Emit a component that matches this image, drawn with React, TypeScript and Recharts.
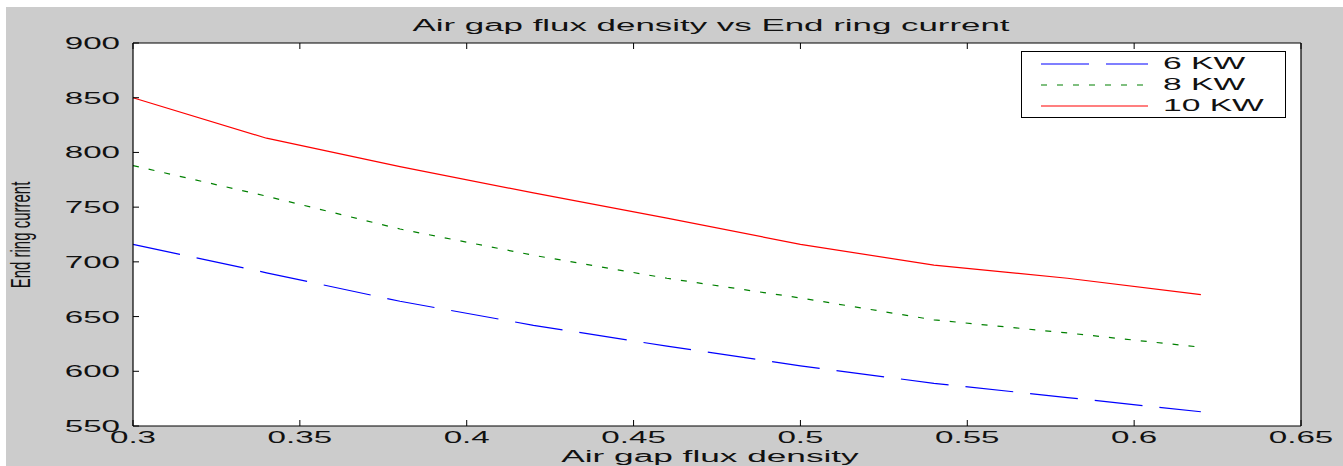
import { LineChart, Line, XAxis, YAxis, CartesianGrid, Legend } from "recharts";

// air gap flux density (x) and end ring current for each rating
const flux = [0.3, 0.34, 0.38, 0.42, 0.46, 0.5, 0.54, 0.58, 0.62];
const kw6 = [716, 690, 664, 642, 623, 605, 589, 576, 563];
const kw8 = [788, 760, 730, 706, 685, 667, 647, 635, 622];
const kw10 = [850, 813, 787, 763, 740, 716, 697, 685, 670];

const xTicks = [0.3, 0.35, 0.4, 0.45, 0.5, 0.55, 0.6, 0.65];
const yTicks = [550, 600, 650, 700, 750, 800, 850, 900];

const series = [
  { key: "kw6", name: "6 KW", color: "#0000ff", dash: "48 17" },
  { key: "kw8", name: "8 KW", color: "#008000", dash: "6 10" },
  { key: "kw10", name: "10 KW", color: "#ff0000", dash: undefined },
];

const data = flux.map((x, i) => ({ x, kw6: kw6[i], kw8: kw8[i], kw10: kw10[i] }));

const FONT = "'Liberation Sans', Arial, sans-serif";
const INK = "#111";

function XTick({ x, y, payload }: any) {
  return (
    <g transform={`translate(${x},${y}) scale(1.95,1)`}>
      <text textAnchor="middle" dy={17} fontSize={17} fontFamily={FONT} fill={INK}>
        {payload.value}
      </text>
    </g>
  );
}

function YTick({ x, y, payload }: any) {
  return (
    <g transform={`translate(${x},${y}) scale(1.95,1)`}>
      <text textAnchor="end" dy={6} fontSize={17} fontFamily={FONT} fill={INK}>
        {payload.value}
      </text>
    </g>
  );
}

function Blank() {
  return <g />;
}

function LegendBox() {
  return (
    <div
      style={{
        width: 263,
        height: 65,
        border: "1.3px solid #000",
        background: "#fff",
        position: "relative",
      }}
    >
      {series.map((s, i) => (
        <div key={s.key} style={{ position: "absolute", left: 0, top: 12 + i * 21 - 10, height: 20, width: 263 }}>
          <svg width={110} height={20} style={{ position: "absolute", left: 19, top: 0 }}>
            <line x1={0} y1={10} x2={107} y2={10} stroke={s.color} strokeWidth={1.2} strokeDasharray={s.dash} />
          </svg>
          <span
            style={{
              position: "absolute",
              left: 141,
              top: 0,
              fontFamily: FONT,
              fontSize: 16,
              lineHeight: "20px",
              color: INK,
              whiteSpace: "nowrap",
              transform: "scaleX(2.1)",
              transformOrigin: "left center",
            }}
          >
            {s.name}
          </span>
        </div>
      ))}
    </div>
  );
}

function Stretched({ text, cx, cy, size, sx }: { text: string; cx: number; cy: number; size: number; sx: number }) {
  return (
    <div style={{ position: "absolute", left: cx, top: cy, width: 0, height: 0 }}>
      <span
        style={{
          position: "absolute",
          left: 0,
          top: 0,
          whiteSpace: "nowrap",
          fontFamily: FONT,
          fontSize: size,
          lineHeight: 1,
          color: INK,
          transform: `translate(-50%,-50%) scaleX(${sx})`,
        }}
      >
        {text}
      </span>
    </div>
  );
}

export default function App() {
  return (
    <div style={{ position: "absolute", left: 0, top: 0, width: 1343, height: 466, background: "#fff", overflow: "hidden" }}>
      <div style={{ position: "absolute", left: 6, top: 7, width: 1337, height: 459, background: "#cccccc" }} />
      <div style={{ position: "absolute", left: 0, top: 0 }}>
        <LineChart width={1343} height={466} data={data} margin={{ top: 42, right: 41, bottom: 0, left: 0 }}>
          <CartesianGrid fill="#fff" stroke="none" horizontal={false} vertical={false} />
          <XAxis
            dataKey="x"
            type="number"
            domain={[0.3, 0.65]}
            ticks={xTicks}
            height={40}
            tickSize={-6}
            tickMargin={6}
            tick={<XTick />}
            axisLine={{ stroke: "#000", strokeWidth: 1.2 }}
            tickLine={{ stroke: "#000" }}
          />
          <XAxis
            xAxisId="top"
            orientation="top"
            dataKey="x"
            type="number"
            domain={[0.3, 0.65]}
            ticks={xTicks}
            height={1}
            tickSize={-6}
            tick={<Blank />}
            axisLine={{ stroke: "#000", strokeWidth: 1.2 }}
            tickLine={{ stroke: "#000" }}
          />
          <YAxis
            type="number"
            domain={[550, 900]}
            ticks={yTicks}
            width={133}
            tickSize={-6}
            tickMargin={19}
            tick={<YTick />}
            axisLine={{ stroke: "#000", strokeWidth: 1.2 }}
            tickLine={{ stroke: "#000" }}
          />
          <YAxis
            yAxisId="right"
            orientation="right"
            type="number"
            domain={[550, 900]}
            ticks={yTicks}
            width={1}
            tickSize={-6}
            tick={<Blank />}
            axisLine={{ stroke: "#000", strokeWidth: 1.2 }}
            tickLine={{ stroke: "#000" }}
          />
          <Legend
            layout="vertical"
            align="center"
            verticalAlign="middle"
            wrapperStyle={{ left: 1021, top: 51, width: 265, height: 67 }}
            content={<LegendBox />}
          />
          {series.map((s) => (
            <Line
              key={s.key}
              type="linear"
              dataKey={s.key}
              name={s.name}
              stroke={s.color}
              strokeWidth={1.2}
              strokeDasharray={s.dash}
              dot={false}
              activeDot={false}
              isAnimationActive={false}
            />
          ))}
        </LineChart>
      </div>
      <Stretched text="Air gap flux density vs End ring current" cx={711} cy={26} size={16} sx={2.18} />
      <Stretched text="Air gap flux density" cx={710} cy={457} size={16} sx={2.2} />
      <div style={{ position: "absolute", left: 20, top: 235, width: 0, height: 0 }}>
        <span
          style={{
            position: "absolute",
            left: 0,
            top: 0,
            whiteSpace: "nowrap",
            fontFamily: FONT,
            fontSize: 15,
            lineHeight: 1,
            color: INK,
            transform: "translate(-50%,-50%) scaleX(1.9) rotate(-90deg)",
          }}
        >
          End ring current
        </span>
      </div>
    </div>
  );
}
